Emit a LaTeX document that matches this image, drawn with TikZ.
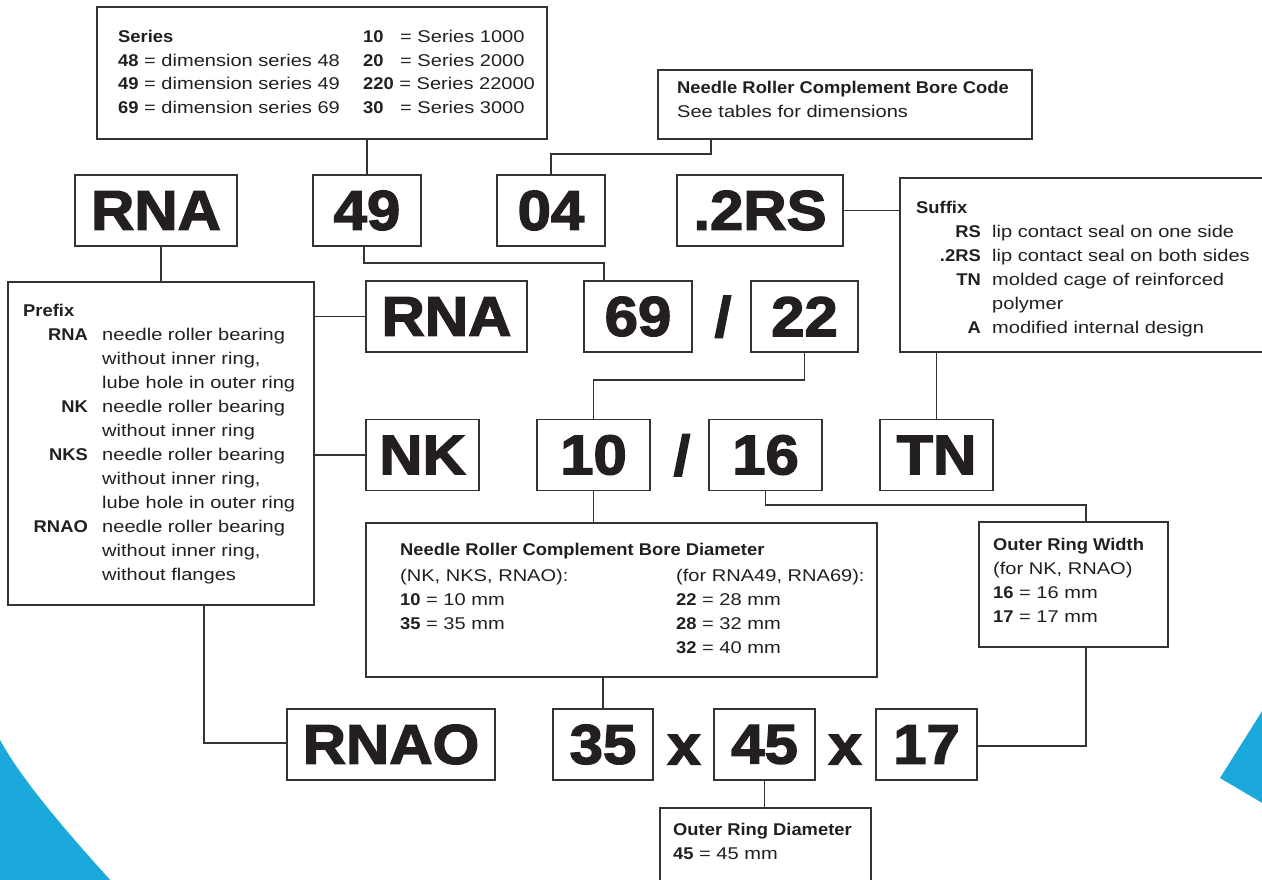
\documentclass[tikz,border=0pt]{standalone}
\usepackage{fontspec}
\setmainfont{Liberation Sans}[UprightFeatures={FakeStretch=1.18},BoldFeatures={FakeStretch=1.08}]
\newfontfamily\bigfont{Liberation Sans Bold}[FakeStretch=1.07,FakeBold=2.5]
\definecolor{linec}{HTML}{333333}
\definecolor{txt}{HTML}{231F20}
\definecolor{skyb}{HTML}{1BA9DC}
\begin{document}
\begin{tikzpicture}[x=1pt,y=-1pt,
  bx/.style={draw=linec,line width=1.3pt,inner sep=0pt,outer sep=0pt,fill=white},
  codebox/.style={bx,font=\bigfont\fontsize{56}{56}\selectfont,text=txt,minimum height=71pt},
  sym/.style={inner sep=0pt,anchor=base,font=\bigfont\fontsize{56}{56}\selectfont,text=txt},
  tx/.style={anchor=base west,inner sep=0pt,font=\fontsize{17}{24}\selectfont,text=txt},
  txb/.style={tx,font=\fontsize{17}{24}\selectfont\bfseries},
  tr/.style={anchor=base east,inner sep=0pt,font=\fontsize{17}{24}\selectfont\bfseries,text=txt},
  ln/.style={draw=linec,line width=1.3pt}]
\useasboundingbox (0,0) rectangle (1262,879);
\fill[white] (0,0) rectangle (1262,879);
% blue decorations
\fill[skyb] (0,740) .. controls (22,780) and (65,830) .. (112,882) -- (0,882) -- cycle;
\fill[skyb] (1264,708) -- (1220,778) -- (1264,804) -- cycle;

% description boxes
\node[bx,minimum width=450pt,minimum height=132pt] (series) at (322,73) {};
\node[bx,minimum width=374pt,minimum height=69pt] (code) at (845,104.5) {};
\node[bx,minimum width=368pt,minimum height=174pt] (suffix) at (1084,265) {};
\node[bx,minimum width=306pt,minimum height=323pt] (prefix) at (161,443.5) {};
\node[bx,minimum width=511pt,minimum height=154pt] (nrcbd) at (621.5,600) {};
\node[bx,minimum width=189pt,minimum height=125pt] (orw) at (1073.5,584.5) {};
\node[bx,minimum width=211pt,minimum height=84pt] (ord) at (765.5,850) {};

% code boxes
\node[codebox,minimum width=162pt] (rna1) at (156,210.5) {RNA};
\node[codebox,minimum width=108pt] (n49) at (367,210.5) {49};
\node[codebox,minimum width=108pt] (n04) at (551,210.5) {04};
\node[codebox,minimum width=166pt] (n2RS) at (760,210.5) {.2RS};
\node[codebox,minimum width=161pt] (rna2) at (446.5,316.5) {RNA};
\node[codebox,minimum width=108pt] (n69) at (638,316.5) {69};
\node[codebox,minimum width=107pt] (n22) at (804.5,316.5) {22};
\node[codebox,minimum width=113pt] (nk) at (422.5,455) {NK};
\node[codebox,minimum width=113pt] (n10) at (593.5,455) {10};
\node[codebox,minimum width=113pt] (n16) at (765.5,455) {16};
\node[codebox,minimum width=113pt] (tn) at (936.5,455) {TN};
\node[codebox,minimum width=208pt] (rnao) at (391,744.5) {RNAO};
\node[codebox,minimum width=100pt] (n35) at (603,744.5) {35};
\node[codebox,minimum width=101pt] (n45) at (764.5,744.5) {45};
\node[codebox,minimum width=101pt] (n17) at (926.5,744.5) {17};
\node[sym] (sl1) at (723,336.5) {/};
\node[sym] (sl2) at (682,475) {/};
\node[sym] (x1) at (684,764.5) {x};
\node[sym] (x2) at (845,764.5) {x};

% connectors
\coordinate (c1) at (711,154);
\coordinate (c2) at (364,263);
\coordinate (c2b) at (604,263);
\coordinate (c3) at (0,380);
\coordinate (c4) at (1086,505);
\coordinate (c5) at (204,743);
\coordinate (c6) at (1086,746);
\draw[ln] (n49.north) -- (n49.north |- series.south);
\draw[ln] (code.south -| c1) -- (c1) -| (n04.north);
\draw[ln] (n2RS.east) -- (n2RS.east -| suffix.west);
\draw[ln] (prefix.north) -- (prefix.north |- rna1.south);
\draw[ln] (n49.south -| c2) -- (c2) -- (c2b) -- (c2b |- n69.north);
\draw[ln] (prefix.east |- rna2.west) -- (rna2.west);
\draw[ln] (prefix.east |- nk.west) -- (nk.west);
\draw[ln] (n22.south) -- (n22.south |- c3) -- (n10.north |- c3) -- (n10.north);
\draw[ln] (tn.north) -- (tn.north |- suffix.south);
\draw[ln] (n10.south) -- (n10.south |- nrcbd.north);
\draw[ln] (n16.south) -- (n16.south |- c4) -- (c4) -- (c4 |- orw.north);
\draw[ln] (prefix.south -| c5) -- (c5) -- (c5 -| rnao.west);
\draw[ln] (n35.north) -- (n35.north |- nrcbd.south);
\draw[ln] (orw.south -| c6) -- (c6) -- (c6 -| n17.east);
\draw[ln] (n45.south) -- (n45.south |- ord.north);

% Series text
\node[txb] (s0) at (118,42) {Series};
\node[tx] (s1) at (118,66) {\textbf{48} = dimension series 48};
\node[tx] (s2) at (118,89) {\textbf{49} = dimension series 49};
\node[tx] (s3) at (118,113) {\textbf{69} = dimension series 69};
\node[txb] (s4) at (363,42) {10};
\node[tx] (s5) at (400,42) {= Series 1000};
\node[txb] (s6) at (363,66) {20};
\node[tx] (s7) at (400,66) {= Series 2000};
\node[tx] (s8) at (363,89) {\textbf{220} = Series 22000};
\node[txb] (s9) at (363,113) {30};
\node[tx] (s10) at (400,113) {= Series 3000};

% Code text
\node[txb] (k1) at (677,93) {Needle Roller Complement Bore Code};
\node[tx] (k2) at (677,117) {See tables for dimensions};

% Suffix text
\node[txb] (u0) at (916,213) {Suffix};
\node[tr] (u1) at (981,237) {RS};
\node[tx] (u1d) at (992,237) {lip contact seal on one side};
\node[tr] (u2) at (981,261) {.2RS};
\node[tx] (u2d) at (992,261) {lip contact seal on both sides};
\node[tr] (u3) at (981,285) {TN};
\node[tx] (u3d) at (992,285) {molded cage of reinforced};
\node[tx] (u3e) at (992,309) {polymer};
\node[tr] (u4) at (981,333) {A};
\node[tx] (u4d) at (992,333) {modified internal design};

% Prefix text
\node[txb] (p0) at (23,316) {Prefix};
\node[tr] (p1) at (88,340) {RNA};
\node[tx] (p1a) at (102,340) {needle roller bearing};
\node[tx] (p1b) at (102,364) {without inner ring,};
\node[tx] (p1c) at (102,388) {lube hole in outer ring};
\node[tr] (p2) at (88,412) {NK};
\node[tx] (p2a) at (102,412) {needle roller bearing};
\node[tx] (p2b) at (102,436) {without inner ring};
\node[tr] (p3) at (88,460) {NKS};
\node[tx] (p3a) at (102,460) {needle roller bearing};
\node[tx] (p3b) at (102,484) {without inner ring,};
\node[tx] (p3c) at (102,508) {lube hole in outer ring};
\node[tr] (p4) at (88,532) {RNAO};
\node[tx] (p4a) at (102,532) {needle roller bearing};
\node[tx] (p4b) at (102,556) {without inner ring,};
\node[tx] (p4c) at (102,580) {without flanges};

% Bore diameter text
\node[txb] (d0) at (400,555) {Needle Roller Complement Bore Diameter};
\node[tx] (d1) at (400,581) {(NK, NKS, RNAO):};
\node[tx] (d2) at (400,605) {\textbf{10} = 10 mm};
\node[tx] (d3) at (400,629) {\textbf{35} = 35 mm};
\node[tx] (d4) at (676,581) {(for RNA49, RNA69):};
\node[tx] (d5) at (676,605) {\textbf{22} = 28 mm};
\node[tx] (d6) at (676,629) {\textbf{28} = 32 mm};
\node[tx] (d7) at (676,653) {\textbf{32} = 40 mm};

% Outer ring width text
\node[txb] (w0) at (993,550) {Outer Ring Width};
\node[tx] (w1) at (993,574) {(for NK, RNAO)};
\node[tx] (w2) at (993,598) {\textbf{16} = 16 mm};
\node[tx] (w3) at (993,622) {\textbf{17} = 17 mm};

% Outer ring diameter text
\node[txb] (o0) at (673,835) {Outer Ring Diameter};
\node[tx] (o1) at (673,859) {\textbf{45} = 45 mm};
\end{tikzpicture}
\end{document}
